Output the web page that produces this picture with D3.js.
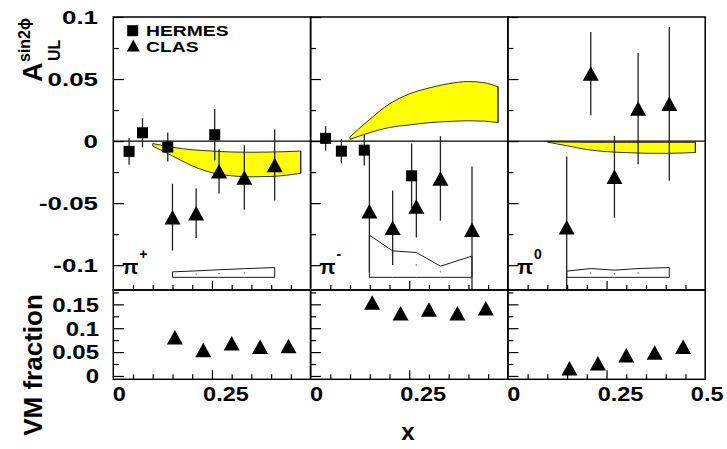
<!DOCTYPE html>
<html>
<head>
<meta charset="utf-8">
<script src="https://cdn.jsdelivr.net/npm/d3@7/dist/d3.min.js"></script>
<style>
  body { margin: 0; background: #fff; }
  text { font-family: "Liberation Sans", Arial, sans-serif; font-weight: bold; fill: #000; }
</style>
</head>
<body>
<div id="chart-area"></div>
<script>
// ---- data ----
const pionCharge = ["+", "-", "0"]

// HERMES (squares)
const hermesX   = [[0.040, 0.074, 0.138, 0.257], [0.038, 0.078, 0.136, 0.256], []]
const hermesA   = [[-0.0083, 0.0067, -0.0048, 0.0051], [0.0022, -0.0081, -0.0073, -0.028], []]
const hermesErr = [[0.0107, 0.0118, 0.0117, 0.0208], [0.0098, 0.0097, 0.0124, 0.026], []]

// CLAS (triangles)
const clasX   = [[0.150, 0.210, 0.268, 0.332, 0.409], [0.149, 0.208, 0.268, 0.329, 0.409], [0.149, 0.210, 0.270, 0.330, 0.409]]
const clasA   = [[-0.0613, -0.0581, -0.0244, -0.0294, -0.0192], [-0.0566, -0.0698, -0.0527, -0.0301, -0.0715], [-0.0695, 0.0544, -0.0288, 0.0262, 0.030]]
const clasErr = [[0.0269, 0.0199, 0.0179, 0.026, 0.0286], [0.049, 0.030, 0.025, 0.034, 0.051], [0.057, 0.0336, 0.033, 0.0448, 0.062]]

// systematic boxes (top edge, common base)
const sysBase = -0.1098
const sysTop  = [[-0.1054, -0.1046, -0.1037, -0.1028, -0.1019], [-0.0758, -0.0885, -0.0898, -0.1008, -0.0927], [-0.1048, -0.1027, -0.104, -0.1027, -0.1019]]

// theory bands
const bandX     = [0.10, 0.15, 0.20, 0.25, 0.30, 0.35, 0.40, 0.44, 0.475]
const bandUpper = [[-0.002, -0.005, -0.007, -0.008, -0.0088, -0.009, -0.0088, -0.0085, -0.008],
                   [0.0035, 0.0175, 0.030, 0.038, 0.0428, 0.0463, 0.048, 0.047, 0.0438],
                   [-0.0005, -0.0008, -0.001, -0.001, -0.001, -0.001, -0.001, -0.001, -0.001]]
const bandLower = [[-0.004, -0.012, -0.020, -0.0255, -0.028, -0.0288, -0.0285, -0.0275, -0.026],
                   [0.0014, 0.0068, 0.0110, 0.0130, 0.0148, 0.0158, 0.0164, 0.0161, 0.0148],
                   [-0.0008, -0.0038, -0.0068, -0.0085, -0.0093, -0.0098, -0.0099, -0.0096, -0.0092]]

// VM fraction
const vmX    = [0.156, 0.228, 0.300, 0.372, 0.444]
const vmFrac = [[0.0812, 0.0544, 0.0684, 0.0613, 0.0628], [0.1538, 0.1314, 0.139, 0.1314, 0.1416], [0.0163, 0.0265, 0.0436, 0.0492, 0.0613]]

// ticks
const topMajor = [0.1, 0.05, 0, -0.05, -0.1]
const topLabels = ["0.1", "0.05", "0", "-0.05", "-0.1"]
const topMinor = [0.075, 0.025, -0.025, -0.075]
const botMajor = [0.15, 0.1, 0.05, 0]
const botLabels = ["0.15", "0.1", "0.05", "0"]
const botMinor = [0.175, 0.125, 0.075, 0.025]
const xMajor = [0.25]
const xMinor = [0.05, 0.1, 0.15, 0.2, 0.3, 0.35, 0.4, 0.45]

// ---- layout ----
const LEFT = 113.3, PANEL_W = 197.3, TOP = 17, MID = 290, BOTTOM = 379.3

const svg = d3.select("#chart-area").append("svg")
  .attr("width", 727)
  .attr("height", 449)

const yTop = d3.scaleLinear().domain([-0.12, 0.1]).range([MID, TOP])
const yBot = d3.scaleLinear().domain([-0.007, 0.18]).range([BOTTOM, MID])

const clampTop = v => Math.max(-0.12, Math.min(0.1, v))

function stext(parent, x, y, str, size, sx, anchor) {
  return parent.append("text")
    .attr("transform", `translate(${x},${y}) scale(${sx},1)`)
    .attr("font-size", size)
    .attr("text-anchor", anchor)
    .text(str)
}

const triPath = (w, h) => `M0,${-h / 2}L${w / 2},${h / 2}L${-w / 2},${h / 2}Z`

const xs = pionCharge.map((c, i) => d3.scaleLinear()
  .domain([0, 0.5])
  .range([LEFT + i * PANEL_W, LEFT + (i + 1) * PANEL_W]))

pionCharge.forEach((charge, i) => {
  const x = xs[i]
  const g = svg.append("g")

  // sys box
  const pts = clasX[i].map((v, k) => [x(v), yTop(sysTop[i][k])])
    .concat(clasX[i].slice().reverse().map(v => [x(v), yTop(sysBase)]))
  g.append("polygon")
    .attr("points", pts.map(p => p.join(",")).join(" "))
    .attr("fill", "#fff")
    .attr("stroke", "#000")
    .attr("stroke-width", 0.9)
  g.selectAll(".sysdot").data(clasX[i].slice(1, 4)).enter().append("circle")
    .attr("cx", d => x(d))
    .attr("cy", (d, k) => (yTop(sysTop[i][k + 1]) + yTop(sysBase)) / 2)
    .attr("r", 0.7)
    .attr("fill", "#666")

  // theory band
  const area = d3.area()
    .x((d, k) => x(bandX[k]))
    .y0((d, k) => yTop(bandLower[i][k]))
    .y1((d, k) => yTop(bandUpper[i][k]))
    .curve(d3.curveMonotoneX)
  g.append("path")
    .datum(bandX)
    .attr("d", area)
    .attr("fill", "#ffff00")
    .attr("stroke", "#000")
    .attr("stroke-width", 0.8)
  // close the right side
  const last = bandX.length - 1
  g.append("line")
    .attr("x1", x(bandX[last])).attr("x2", x(bandX[last]))
    .attr("y1", yTop(bandUpper[i][last])).attr("y2", yTop(bandLower[i][last]))
    .attr("stroke", "#000").attr("stroke-width", 0.8)

  // zero line
  g.append("line")
    .attr("x1", x(0)).attr("x2", x(0.5))
    .attr("y1", yTop(0)).attr("y2", yTop(0))
    .attr("stroke", "#000").attr("stroke-width", 1.1)

  // error bars
  const bars = hermesX[i].map((v, k) => [v, hermesA[i][k], hermesErr[i][k]])
    .concat(clasX[i].map((v, k) => [v, clasA[i][k], clasErr[i][k]]))
  g.selectAll(".err").data(bars).enter().append("line")
    .attr("x1", d => x(d[0])).attr("x2", d => x(d[0]))
    .attr("y1", d => yTop(clampTop(d[1] + d[2])))
    .attr("y2", d => yTop(clampTop(d[1] - d[2])))
    .attr("stroke", "#222").attr("stroke-width", 1.3)

  // HERMES squares
  g.selectAll(".sq").data(hermesX[i]).enter().append("rect")
    .attr("x", d => x(d) - 5.5)
    .attr("y", (d, k) => yTop(hermesA[i][k]) - 5.5)
    .attr("width", 11).attr("height", 11)
    .attr("fill", "#000")

  // CLAS triangles
  g.selectAll(".tri").data(clasX[i]).enter().append("path")
    .attr("transform", (d, k) => `translate(${x(d)},${yTop(clasA[i][k])})`)
    .attr("d", triPath(16, 14.5))
    .attr("fill", "#000")

  // VM fraction triangles
  g.selectAll(".vm").data(vmX).enter().append("path")
    .attr("transform", (d, k) => `translate(${x(d)},${yBot(vmFrac[i][k])})`)
    .attr("d", triPath(16, 14.5))
    .attr("fill", "#000")

  // y ticks (left edge, inward)
  const yTicks = (scale, vals, size) => d3.axisRight(scale).tickValues(vals).tickSize(size).tickFormat("")
  const tickStyle = sel => { sel.select(".domain").remove(); sel.selectAll("line").attr("stroke", "#000").attr("stroke-width", 1.2) }
  g.append("g").attr("transform", `translate(${x(0)},0)`).call(yTicks(yTop, topMajor, 10.5)).call(tickStyle)
  g.append("g").attr("transform", `translate(${x(0)},0)`).call(yTicks(yTop, topMinor, 5.5)).call(tickStyle)
  g.append("g").attr("transform", `translate(${x(0)},0)`).call(yTicks(yBot, botMajor, 10.5)).call(tickStyle)
  g.append("g").attr("transform", `translate(${x(0)},0)`).call(yTicks(yBot, botMinor, 5.5)).call(tickStyle)

  // x ticks (bottom edges, upward)
  const xTicks = (vals, size) => d3.axisTop(x).tickValues(vals).tickSize(size).tickFormat("")
  ;[MID, BOTTOM].forEach(yy => {
    g.append("g").attr("transform", `translate(0,${yy})`).call(xTicks(xMajor, 9)).call(tickStyle)
    g.append("g").attr("transform", `translate(0,${yy})`).call(xTicks(xMinor, 5)).call(tickStyle)
  })

  // frames
  g.append("rect")
    .attr("x", x(0)).attr("y", TOP)
    .attr("width", x(0.5) - x(0)).attr("height", MID - TOP)
    .attr("fill", "none").attr("stroke", "#000").attr("stroke-width", 1.5)
  g.append("rect")
    .attr("x", x(0)).attr("y", MID)
    .attr("width", x(0.5) - x(0)).attr("height", BOTTOM - MID)
    .attr("fill", "none").attr("stroke", "#000").attr("stroke-width", 1.5)

  // pion label
  g.append("text")
    .attr("x", x(0) + 9).attr("y", 274)
    .attr("font-family", "'Liberation Serif', serif")
    .attr("font-weight", "normal")
    .attr("font-size", 21)
    .text("π")
  g.append("text")
    .attr("x", x(0) + 26).attr("y", 259)
    .attr("font-size", 14)
    .text(charge)

  // x tick labels
  stext(svg, x(0) + 6, 401, "0", 21, 1.12, "middle")
  stext(svg, x(0.25) + 14, 401, "0.25", 21, 1.12, "middle")
})

stext(svg, xs[2](0.5) + 2, 401, "0.5", 21, 1.12, "middle")

// y tick labels
topMajor.forEach((v, k) => stext(svg, 98, yTop(v) + 6.6, topLabels[k], 18.5, 1.4, "end"))
botMajor.forEach((v, k) => stext(svg, 99, yBot(v) + 7.3, botLabels[k], 20, 1.2, "end"))

// axis titles
svg.append("text").attr("transform", "translate(41.7,82) rotate(-90)").attr("font-size", 27).text("A")
svg.append("text").attr("transform", "translate(29.5,62) rotate(-90)").attr("font-size", 16).text("sin2ϕ")
svg.append("text").attr("transform", "translate(60,61) rotate(-90)").attr("font-size", 16).text("UL")
svg.append("text").attr("transform", "translate(41.7,365) rotate(-90)").attr("font-size", 26)
  .attr("text-anchor", "middle").text("VM fraction")
svg.append("text").attr("x", 408).attr("y", 440).attr("font-size", 24).attr("text-anchor", "middle").text("x")

// legend
svg.append("rect").attr("x", 127.2).attr("y", 25.2).attr("width", 11).attr("height", 11).attr("fill", "#000")
svg.append("path").attr("transform", "translate(133.3,45.5)").attr("d", triPath(13, 12)).attr("fill", "#000")
stext(svg, 146, 36.3, "HERMES", 14.2, 1.36, "start")
stext(svg, 146, 52.3, "CLAS", 14.2, 1.36, "start")
</script>
</body>
</html>
